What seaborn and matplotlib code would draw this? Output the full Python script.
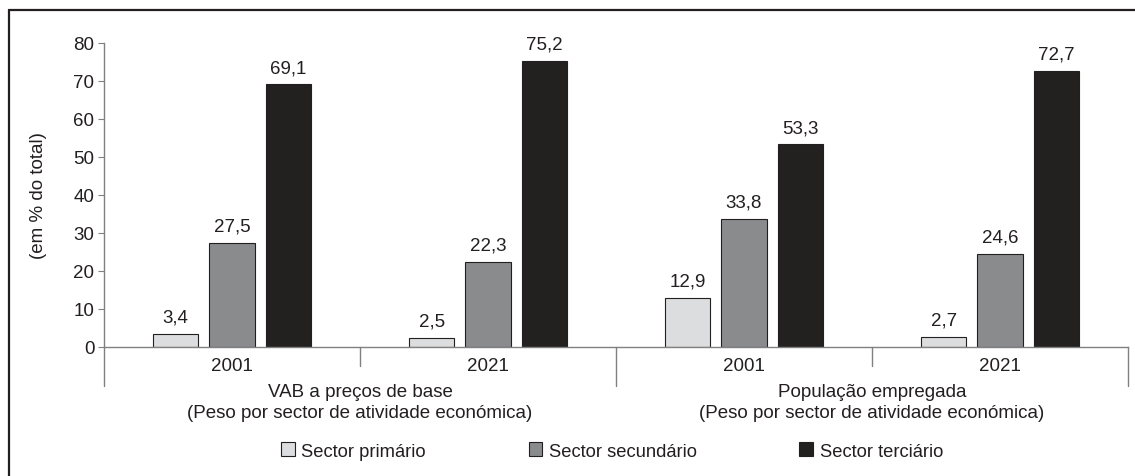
"""
plot.py - VAB e população empregada por sector de atividade (2001 vs 2021).
"""

import pandas as pd
import matplotlib
matplotlib.use("Agg")
import matplotlib.pyplot as plt
import matplotlib.transforms as mtransforms
from matplotlib.lines import Line2D
import seaborn as sns

# --- data -----------------------------------------------------------------
groups = ["VAB 2001", "VAB 2021", "Pop 2001", "Pop 2021"]
year_labels = ["2001", "2021", "2001", "2021"]
categories = ["VAB a preços de base\n(Peso por sector de atividade económica)",
              "População empregada\n(Peso por sector de atividade económica)"]
sectors = ["Sector primário", "Sector secundário", "Sector terciário"]
primario = [3.4, 2.5, 12.9, 2.7]
secundario = [27.5, 22.3, 33.8, 24.6]
terciario = [69.1, 75.2, 53.3, 72.7]

colors = ["#dcddde", "#8a8b8d", "#231f20"]
edge = "#231f20"
axis_grey = "#808080"
txt_col = "#231f20"

rows = []
for sector, vals in zip(sectors, [primario, secundario, terciario]):
    for g, v in zip(groups, vals):
        rows.append({"grupo": g, "sector": sector, "valor": v})
df = pd.DataFrame(rows)

# --- style ----------------------------------------------------------------
sns.set_style("white")
plt.rcParams["font.family"] = ["Liberation Sans", "DejaVu Sans"]
plt.rcParams["font.size"] = 13.5

fig = plt.figure(figsize=(11.35, 4.77), dpi=100)
ax = fig.add_axes([104 / 1135, 1 - 348 / 477, 1024 / 1135, 304 / 477])

sns.barplot(data=df, x="grupo", y="valor", hue="sector", order=groups,
            hue_order=sectors, palette=colors, edgecolor=edge, linewidth=0.8,
            width=0.66, gap=0.2, ax=ax)

for cont in ax.containers:
    ax.bar_label(cont, fmt=lambda v: f"{v:.1f}".replace(".", ","),
                 padding=6, fontsize=13.5, color=txt_col)

handles, labels = ax.get_legend_handles_labels()
ax.get_legend().remove()

ax.set_xlim(-0.5, len(groups) - 0.5)
ax.set_ylim(0, 80)
ax.set_yticks(range(0, 81, 10))
ax.set_xticks(range(len(groups)))
ax.set_xticklabels(year_labels)
ax.set_xlabel("")
ax.set_ylabel("(em % do total)", fontsize=13.5, color=txt_col)
ax.yaxis.set_label_coords(-0.056, 0.5)

for side in ["top", "right"]:
    ax.spines[side].set_visible(False)
for side in ["left", "bottom"]:
    ax.spines[side].set_color(axis_grey)
    ax.spines[side].set_linewidth(1.0)
ax.tick_params(axis="y", length=4, width=0.8, color=axis_grey, left=True,
               pad=3, labelcolor=txt_col, labelsize=13.5)
ax.tick_params(axis="x", length=0, pad=7, labelcolor=txt_col, labelsize=13.5)

# separators under the x axis
trans = mtransforms.blended_transform_factory(ax.transData, ax.transAxes)
for i, x in enumerate([-0.5, 0.5, 1.5, 2.5, 3.5]):
    y_end = -0.128 if i % 2 == 0 else -0.062
    ax.plot([x, x], [0, y_end], color=axis_grey, lw=1.0, transform=trans,
            clip_on=False)

# category labels
for x, txt in zip([0.5, 2.5], categories):
    ax.text(x, -0.18, txt, transform=trans, ha="center", va="center",
            fontsize=13.5, color=txt_col, linespacing=1.3)

fig.legend(handles, labels, loc="center", bbox_to_anchor=(612 / 1135, 1 - 452 / 477),
           ncol=3, frameon=False, handlelength=0.75, handleheight=0.75,
           handletextpad=0.35, columnspacing=5.6, fontsize=13.2,
           labelcolor=txt_col)

# frame (top and left only)
fig.add_artist(Line2D([9 / 1135, 1], [1 - 11 / 477, 1 - 11 / 477],
                      color=txt_col, lw=1.6, transform=fig.transFigure))
fig.add_artist(Line2D([9 / 1135, 9 / 1135], [0, 1 - 11 / 477],
                      color=txt_col, lw=1.6, transform=fig.transFigure))

fig.savefig("out.png", dpi=100)
plt.close(fig)
